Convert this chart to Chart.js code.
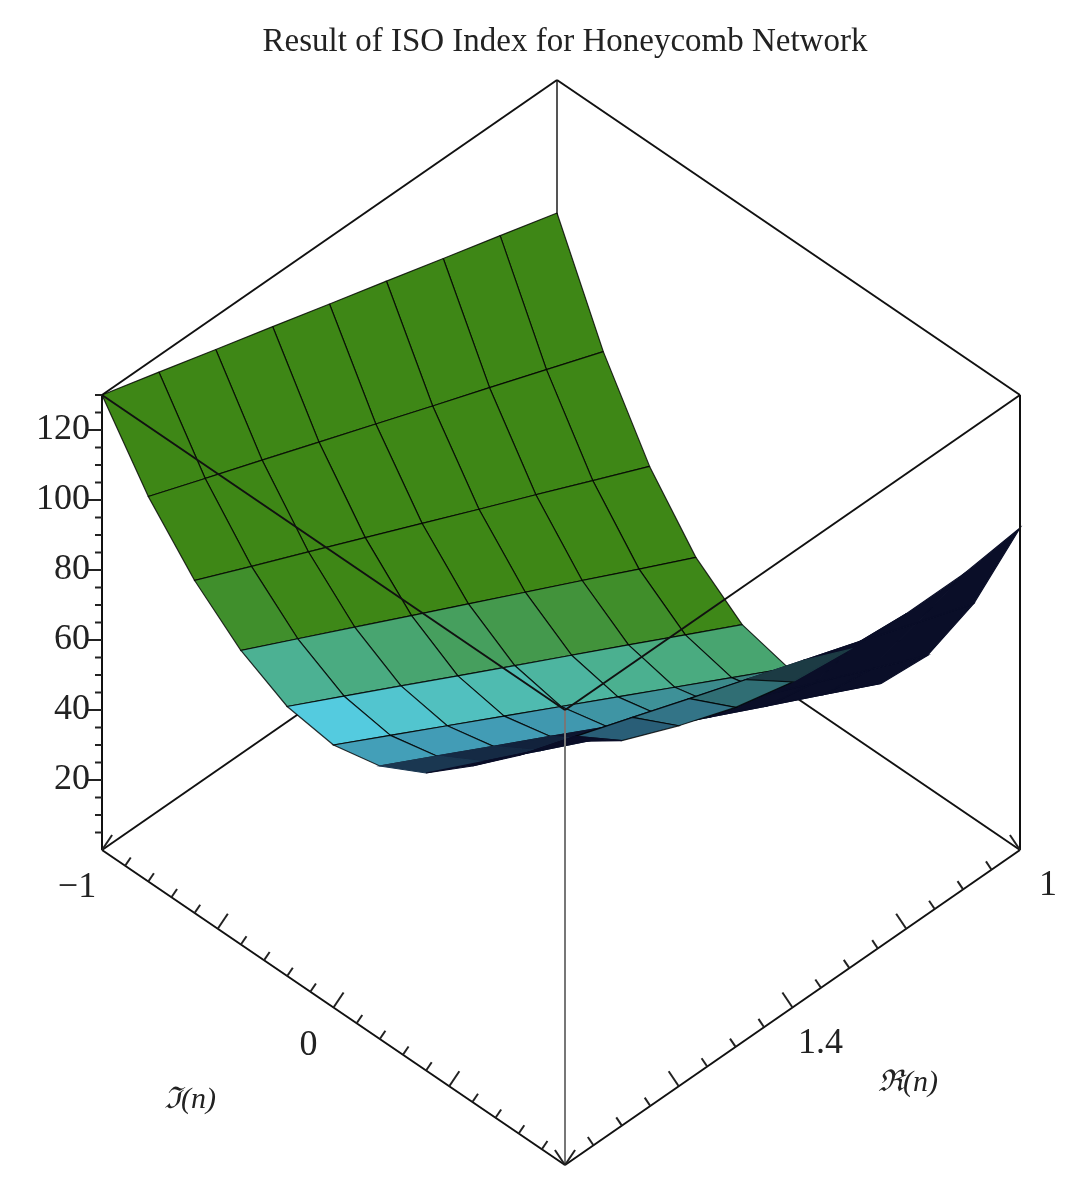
<!DOCTYPE html>
<html>
<head>
<meta charset="utf-8">
<script src="https://cdn.jsdelivr.net/npm/chart.js@4"></script>
<style>
  body { margin: 0; background: #fff; }
  canvas { display: block; }
</style>
</head>
<body>
<canvas id="plot" width="1070" height="1203"></canvas>
<script>
// surface samples: z[re][im]
var reValues = [1.0, 1.1, 1.2, 1.3, 1.4, 1.5, 1.6, 1.7, 1.8];
var imValues = [-1, -0.8, -0.6, -0.4, -0.2, 0, 0.2, 0.4, 0.6, 0.8, 1];
var zValues = [
  [92.0, 61.4, 37.6, 20.6, 10.4, 7.0, 10.4, 20.6, 37.6, 61.4, 92.0],
  [96.8, 67.5, 44.8, 28.5, 18.7, 15.5, 18.9, 28.7, 44.9, 67.2, 90.0],
  [101.5, 73.6, 52.0, 36.5, 27.1, 24.0, 27.3, 36.7, 52.2, 73.1, 90.0],
  [106.3, 79.6, 59.1, 44.4, 35.4, 32.5, 35.7, 44.8, 59.5, 78.9, 91.0],
  [111.0, 85.7, 66.3, 52.3, 43.7, 41.0, 44.2, 52.8, 66.8, 84.7, 93.0],
  [115.8, 91.8, 73.5, 60.2, 52.0, 49.5, 52.7, 60.9, 74.1, 90.5, 97.0],
  [120.5, 97.9, 80.7, 68.2, 60.4, 58.0, 61.1, 68.9, 81.4, 96.4, 103.0],
  [125.3, 103.9, 87.8, 76.1, 68.7, 66.5, 69.6, 77.0, 88.7, 102.2, 110.0],
  [130.0, 110.0, 95.0, 84.0, 77.0, 75.0, 78.0, 85.0, 96.0, 108.0, 121.0]
];
var zTicks = [20, 40, 60, 80, 100, 120];
var imTicks = [-1, 0];
var reTicks = [1, 1.4];
var zMax = 130;

// simple oblique view of the box
function proj(re, im, z) {
  var a = (1.8 - re) / 0.8, b = (1 - im) / 2;
  return { x: 565 + a * 455 - b * 463, y: 1165 - a * 315 - b * 315 - z * 3.5 };
}

function area(p) {
  var s = 0;
  for (var k = 0; k < p.length; k++) {
    var q = p[(k + 1) % p.length];
    s += p[k].x * q.y - q.x * p[k].y;
  }
  return s;
}

function mixArr(c1, c2, f) {
  return c1.map(function (v, k) { return Math.round(v + (c2[k] - v) * f); });
}

// built in paint order, reversed at the end (chart.js draws dataset 0 last)
var datasets = [];
function segment(p1, p2, color, width) {
  datasets.push({ data: [p1, p2], showLine: true, borderColor: color, borderWidth: width || 2,
    pointRadius: 0, fill: false });
}

var c = {};
[1, 1.8].forEach(function (r) {
  [-1, 1].forEach(function (m) {
    c[r + '_' + m + '_0'] = proj(r, m, 0);
    c[r + '_' + m + '_1'] = proj(r, m, zMax);
  });
});
function C(r, m, t) { return c[r + '_' + m + '_' + t]; }

// back edges first
segment(C(1, -1, 0), C(1, -1, 1), '#555', 2);
segment(C(1, -1, 0), C(1.8, -1, 0), '#111', 2);
segment(C(1, -1, 0), C(1, 1, 0), '#111', 2);
segment(C(1, -1, 1), C(1.8, -1, 1), '#111', 2);
segment(C(1, -1, 1), C(1, 1, 1), '#111', 2);

// surface quads, far to near
var quads = [];
for (var i = 0; i < reValues.length - 1; i++) {
  for (var j = 0; j < imValues.length - 1; j++) {
    var idx = [[i, j], [i + 1, j], [i + 1, j + 1], [i, j + 1]];
    var pts = idx.map(function (q) { return proj(reValues[q[0]], imValues[q[1]], zValues[q[0]][q[1]]); });
    var flat = idx.map(function (q) { return proj(reValues[q[0]], imValues[q[1]], 0); });
    var yAvg = pts.reduce(function (s, p) { return s + p.y; }, 0) / 4;
    var depth = flat.reduce(function (s, p) { return s + p.y; }, 0) / 4;
    var ratio = area(pts) / area(flat);
    // lighting-like tint: lower on screen looks cyan, higher looks green
    var f = Math.max(0, Math.min(1, (725 - yAvg) / 130));
    var col = mixArr([85, 205, 230], [62, 135, 22], f);
    var dk = Math.max(0, Math.min(1, (0.55 - ratio) / 0.4));
    col = mixArr(col, [10, 14, 40], dk);
    quads.push({ pts: pts, depth: depth, fill: 'rgb(' + col.join(',') + ')', dark: dk > 0.6 });
  }
}
quads.sort(function (a, b) { return a.depth - b.depth; });
quads.forEach(function (q) {
  datasets.push({ data: q.pts.concat([q.pts[0]]), showLine: true, fill: 'shape',
    backgroundColor: q.fill, borderColor: q.dark ? q.fill : 'rgba(0,0,0,0.8)', borderWidth: 1.2,
    pointRadius: 0, tension: 0 });
});

// front edges over the surface
segment(C(1.8, -1, 0), C(1.8, -1, 1), '#111', 2);
segment(C(1, 1, 0), C(1, 1, 1), '#111', 2);
segment(C(1.8, 1, 1), C(1.8, 1, 0), '#777', 2);
segment(C(1.8, -1, 1), C(1.8, 1, 1), '#111', 2);
segment(C(1, 1, 1), C(1.8, 1, 1), '#111', 2);
segment(C(1.8, -1, 0), C(1.8, 1, 0), '#111', 2);
segment(C(1, 1, 0), C(1.8, 1, 0), '#111', 2);
datasets.reverse();

var axisText = {
  id: 'axisText',
  afterDatasetsDraw: function (chart) {
    var ctx = chart.ctx, sx = chart.scales.x, sy = chart.scales.y;
    function px(p) { return { x: sx.getPixelForValue(p.x), y: sy.getPixelForValue(p.y) }; }
    ctx.save();
    ctx.strokeStyle = '#222';
    ctx.lineWidth = 2;
    ctx.fillStyle = '#222';
    ctx.font = '36px "Liberation Serif", serif';
    for (var z = 5; z <= zMax; z += 5) {
      var p = px(proj(1.8, -1, z));
      var len = z % 20 === 0 ? 14 : 7;
      ctx.beginPath(); ctx.moveTo(p.x - len, p.y); ctx.lineTo(p.x, p.y); ctx.stroke();
    }
    ctx.textAlign = 'right'; ctx.textBaseline = 'middle';
    zTicks.forEach(function (z) {
      var p = px(proj(1.8, -1, z));
      ctx.fillText(String(z), p.x - 12, p.y);
    });
    for (var m = -1; m <= 1.001; m += 0.1) {
      var a = px(proj(1.8, m, 0));
      var l = Math.abs(Math.round(m * 10) % 5) === 0 ? 18 : 10;
      ctx.beginPath(); ctx.moveTo(a.x, a.y); ctx.lineTo(a.x + l * 0.56, a.y - l * 0.83); ctx.stroke();
    }
    for (var r = 1; r <= 1.801; r += 0.05) {
      var b = px(proj(r, 1, 0));
      var l2 = Math.abs(Math.round(r * 20) % 4) === 0 ? 18 : 10;
      ctx.beginPath(); ctx.moveTo(b.x, b.y); ctx.lineTo(b.x - l2 * 0.56, b.y - l2 * 0.83); ctx.stroke();
    }
    ctx.textAlign = 'center';
    imTicks.forEach(function (m) {
      var p = px(proj(1.8, m, 0));
      ctx.fillText(m < 0 ? '\u2212' + Math.abs(m) : String(m), p.x - 25, p.y + 38);
    });
    reTicks.forEach(function (r) {
      var p = px(proj(r, 1, 0));
      ctx.fillText(String(r), p.x + 28, p.y + 36);
    });
    ctx.font = 'italic 30px "Liberation Serif", serif';
    ctx.fillText('\u2111(n)', 190, 1100);
    ctx.fillText('\u211c(n)', 908, 1083);
    ctx.font = '33px "Liberation Serif", serif';
    ctx.fillText('Result of ISO Index for Honeycomb Network', 565, 42);
    ctx.restore();
  }
};

new Chart(document.getElementById('plot'), {
  type: 'scatter',
  data: { datasets: datasets },
  options: {
    responsive: false,
    animation: false,
    layout: { padding: 0 },
    plugins: { legend: { display: false }, tooltip: { enabled: false } },
    scales: {
      x: { type: 'linear', min: 0, max: 1070, display: false },
      y: { type: 'linear', min: 0, max: 1203, reverse: true, display: false }
    }
  },
  plugins: [axisText]
});
</script>
</body>
</html>
